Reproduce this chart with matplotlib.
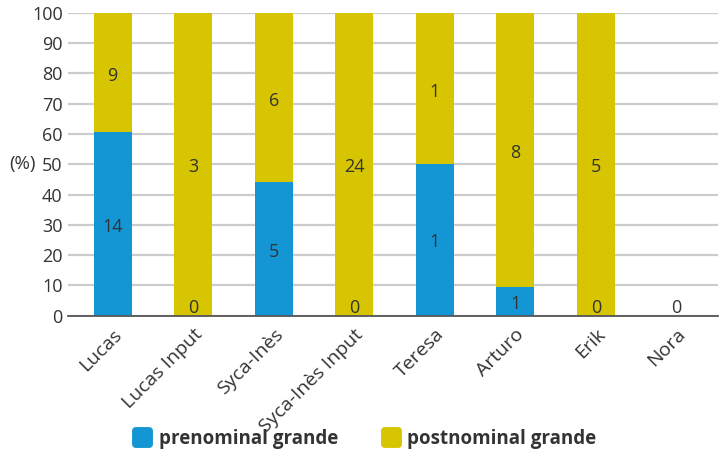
import matplotlib.pyplot as plt
from matplotlib.lines import Line2D
from matplotlib.path import Path
import numpy as np

plt.rcParams['font.family'] = ['Open Sans', 'DejaVu Sans']

speakers = ['Lucas', 'Lucas Input', 'Syca-Inès', 'Syca-Inès Input',
            'Teresa', 'Arturo', 'Erik', 'Nora']
# percentages
pre_pct = [60.5, 0, 44, 0, 50, 9.5, 0, 0]
post_pct = [39.5, 100, 56, 100, 50, 90.5, 100, 0]
# raw counts shown as labels
pre_n = [14, 0, 5, 0, 1, 1, 0, 0]
post_n = [9, 3, 6, 24, 1, 8, 5, None]

blue = '#1496d5'
yellow = '#d6c500'
txt = '#333333'

fig = plt.figure(figsize=(7.19, 4.57), dpi=100)
ax = fig.add_axes([0.095, 0.309, 0.904, 0.663])

x = np.arange(len(speakers))
w = 0.47
ax.bar(x, pre_pct, w, color=blue, zorder=2)
ax.bar(x, post_pct, w, bottom=pre_pct, color=yellow, zorder=2)

# count labels in the middle of each segment, zeros at the base
fs = 13
for i in range(len(speakers)):
    if pre_n[i] == 0:
        ax.text(x[i], 2.6, '0', ha='center', va='center', fontsize=fs, color=txt)
    else:
        ax.text(x[i], pre_pct[i] / 2 - 0.8, str(pre_n[i]), ha='center', va='center',
                fontsize=fs, color=txt)
    if post_n[i] is not None:
        ax.text(x[i], pre_pct[i] + post_pct[i] / 2 - 1, str(post_n[i]), ha='center',
                va='center', fontsize=fs, color=txt)

ax.set_ylim(0, 100)
ax.set_xlim(-0.55, 7.52)
ax.set_yticks(range(0, 101, 10))
ax.yaxis.grid(True, color='#cccccc', linewidth=1.6, zorder=0)
ax.set_axisbelow(True)
for s in ['top', 'right', 'left']:
    ax.spines[s].set_visible(False)
ax.spines['bottom'].set_color('#555555')
ax.spines['bottom'].set_linewidth(1.3)
ax.tick_params(axis='y', length=0, labelsize=13, colors=txt, pad=4)
ax.tick_params(axis='x', length=0, labelsize=14, colors=txt, pad=7)
ax.set_xticks(x)
ax.set_xticklabels(speakers, rotation=45, ha='right', rotation_mode='anchor')

ax.text(-0.071, 0.5, '(%)', transform=ax.transAxes, ha='center', va='center',
        fontsize=13.5, color=txt)

# rounded square marker for the legend
t = np.linspace(0, np.pi / 2, 6)
r, h = 0.3, 1.0
pts = []
for cx, cy, a0 in [(h - r, h - r, 0), (-h + r, h - r, np.pi / 2),
                   (-h + r, -h + r, np.pi), (h - r, -h + r, 1.5 * np.pi)]:
    for a in t + a0:
        pts.append((cx + r * np.cos(a), cy + r * np.sin(a)))
pts.append(pts[0])
rounded = Path(pts, closed=True)

handles = [Line2D([], [], marker=rounded, linestyle='none', markersize=14,
                  markerfacecolor=blue, markeredgecolor=blue),
           Line2D([], [], marker=rounded, linestyle='none', markersize=14,
                  markerfacecolor=yellow, markeredgecolor=yellow)]
leg = fig.legend(handles, ['prenominal grande', 'postnominal grande'], ncol=2,
                 loc='center', bbox_to_anchor=(0.507, 0.04), frameon=False,
                 columnspacing=2.3, handlelength=1.0, handletextpad=0.4,
                 prop={'size': 13.5, 'weight': 'bold'})
for t in leg.get_texts():
    t.set_color(txt)

fig.savefig('out.png', dpi=100)
